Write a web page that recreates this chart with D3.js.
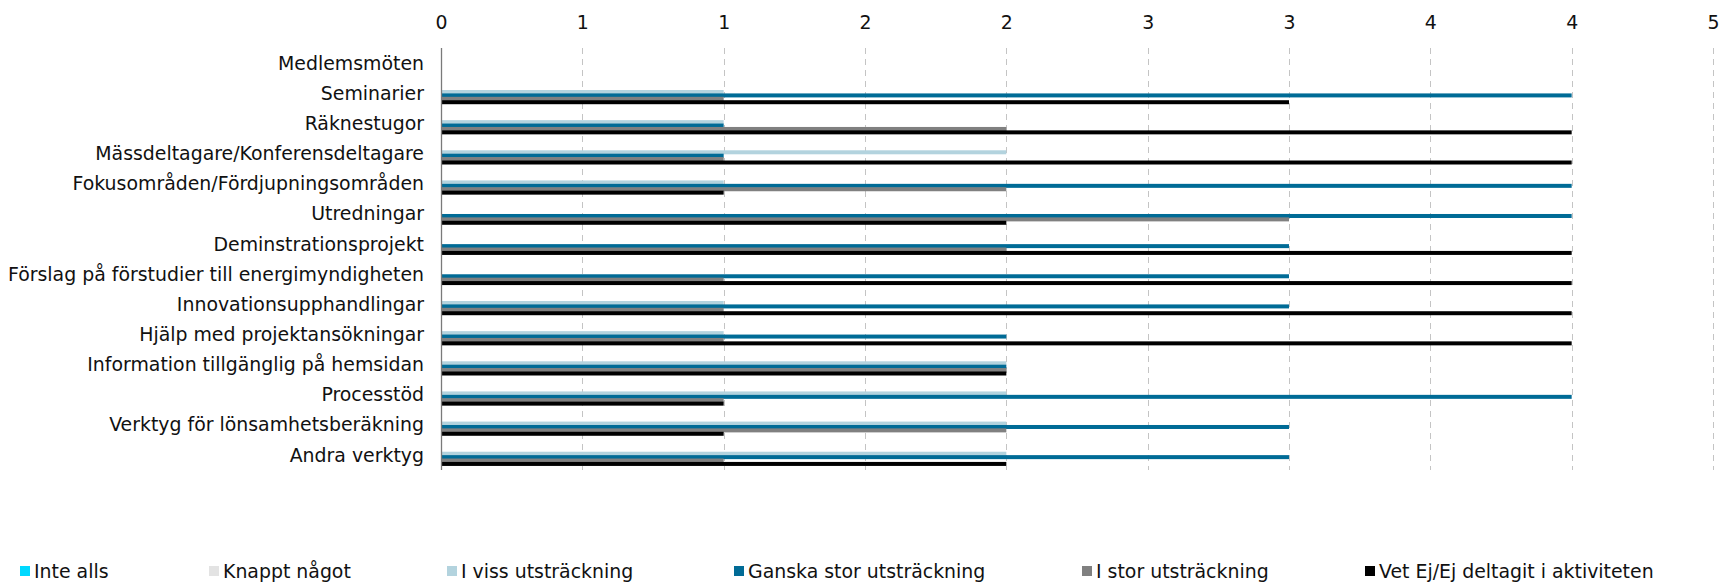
<!DOCTYPE html>
<html>
<head>
<meta charset="utf-8">
<script src="https://cdn.jsdelivr.net/npm/d3@7"></script>
<style>
  body { margin: 0; background: #fff; }
  svg text { font-family: "DejaVu Sans", Verdana, sans-serif; fill: #111; }
</style>
</head>
<body>
<div id="chart"></div>
<script>
// categories, top to bottom
var categories = [
	"Medlemsmöten",
	"Seminarier",
	"Räknestugor",
	"Mässdeltagare/Konferensdeltagare",
	"Fokusområden/Fördjupningsområden",
	"Utredningar",
	"Deminstrationsprojekt",
	"Förslag på förstudier till energimyndigheten",
	"Innovationsupphandlingar",
	"Hjälp med projektansökningar",
	"Information tillgänglig på hemsidan",
	"Processtöd",
	"Verktyg för lönsamhetsberäkning",
	"Andra verktyg"
];

var seriesNames = ["Inte alls", "Knappt något", "I viss utsträckning", "Ganska stor utsträckning", "I stor utsträckning", "Vet Ej/Ej deltagit i aktiviteten"];
var seriesColors = ["#00d9ff", "#e3e3e3", "#b3d3de", "#006b96", "#808080", "#000000"];

var inteAlls    = [0, 0, 0, 0, 0, 0, 0, 0, 0, 0, 0, 0, 0, 0];
var knapptNagot = [0, 0, 0, 0, 0, 0, 0, 0, 0, 0, 0, 0, 0, 0];
var iViss       = [0, 1, 1, 2, 1, 0, 0, 0, 1, 1, 2, 2, 2, 2];
var ganskaStor  = [0, 4, 1, 1, 4, 4, 3, 3, 3, 2, 2, 4, 3, 3];
var iStor       = [0, 1, 2, 1, 2, 3, 2, 1, 1, 1, 2, 1, 2, 1];
var vetEj       = [0, 3, 4, 4, 1, 2, 4, 4, 4, 4, 2, 1, 1, 2];

var tickValues = [0, 0.5, 1, 1.5, 2, 2.5, 3, 3.5, 4, 4.5];

var seriesValues = [inteAlls, knapptNagot, iViss, ganskaStor, iStor, vetEj];

// legend x positions (Excel spreads them unevenly)
var legendX = [20, 209, 447, 734, 1082, 1365];

var width = 1722, height = 582;
var fontSize = "18.9px";

var svg = d3.select("#chart").append("svg")
	.attr("width", width)
	.attr("height", height);

var x = d3.scaleLinear().domain([0, 4.5]).range([441, 1713]);
var y = d3.scaleBand().domain(categories).range([48, 470]);

// gridlines
svg.append("g").selectAll("line")
	.data(tickValues.filter(d => d > 0))
	.enter().append("line")
	.attr("x1", d => Math.round(x(d)) + 0.5)
	.attr("x2", d => Math.round(x(d)) + 0.5)
	.attr("y1", y.range()[0])
	.attr("y2", y.range()[1])
	.style("stroke", "#c4c4c4")
	.style("stroke-width", 1)
	.style("stroke-dasharray", "6,5");

// top axis labels
var axis = svg.append("g")
	.attr("transform", "translate(0,32)")
	.call(d3.axisTop(x).tickValues(tickValues).tickFormat(d => Math.round(d)).tickSize(0));
axis.select(".domain").remove();
axis.selectAll("text")
	.style("font-size", fontSize)
	.style("font-family", "DejaVu Sans, sans-serif")
	.attr("fill", "#111");

// bars
var barStep = 3.4, barH = 4;
var rows = [];
categories.forEach((c, i) => {
	seriesValues.forEach((vals, s) => {
		rows.push({ cat: c, s: s, v: vals[i] });
	});
});

svg.append("g").selectAll("rect")
	.data(rows.filter(d => d.v > 0))
	.enter().append("rect")
	.attr("x", x(0))
	.attr("y", d => y(d.cat) + y.bandwidth() / 2 + 11 - barH - (5 - d.s) * barStep)
	.attr("width", d => x(d.v) - x(0))
	.attr("height", barH)
	.style("fill", d => seriesColors[d.s]);

// vertical axis line
svg.append("line")
	.attr("x1", Math.round(x(0)) + 0.5)
	.attr("x2", Math.round(x(0)) + 0.5)
	.attr("y1", y.range()[0])
	.attr("y2", y.range()[1])
	.style("stroke", "#7a7a7a")
	.style("stroke-width", 1.3);

// category labels
svg.append("g").selectAll("text")
	.data(categories)
	.enter().append("text")
	.attr("x", 424)
	.attr("y", d => y(d) + y.bandwidth() / 2)
	.attr("dy", "0.35em")
	.attr("text-anchor", "end")
	.style("font-size", fontSize)
	.text(d => d);

// legend
var legend = svg.append("g").selectAll("g")
	.data(seriesNames)
	.enter().append("g")
	.attr("transform", (d, i) => "translate(" + legendX[i] + ",571)");

legend.append("rect")
	.attr("x", 0)
	.attr("y", -5)
	.attr("width", 10)
	.attr("height", 10)
	.style("fill", (d, i) => seriesColors[i]);

legend.append("text")
	.attr("x", 14)
	.attr("y", 0)
	.attr("dy", "0.35em")
	.style("font-size", fontSize)
	.text(d => d);
</script>
</body>
</html>
